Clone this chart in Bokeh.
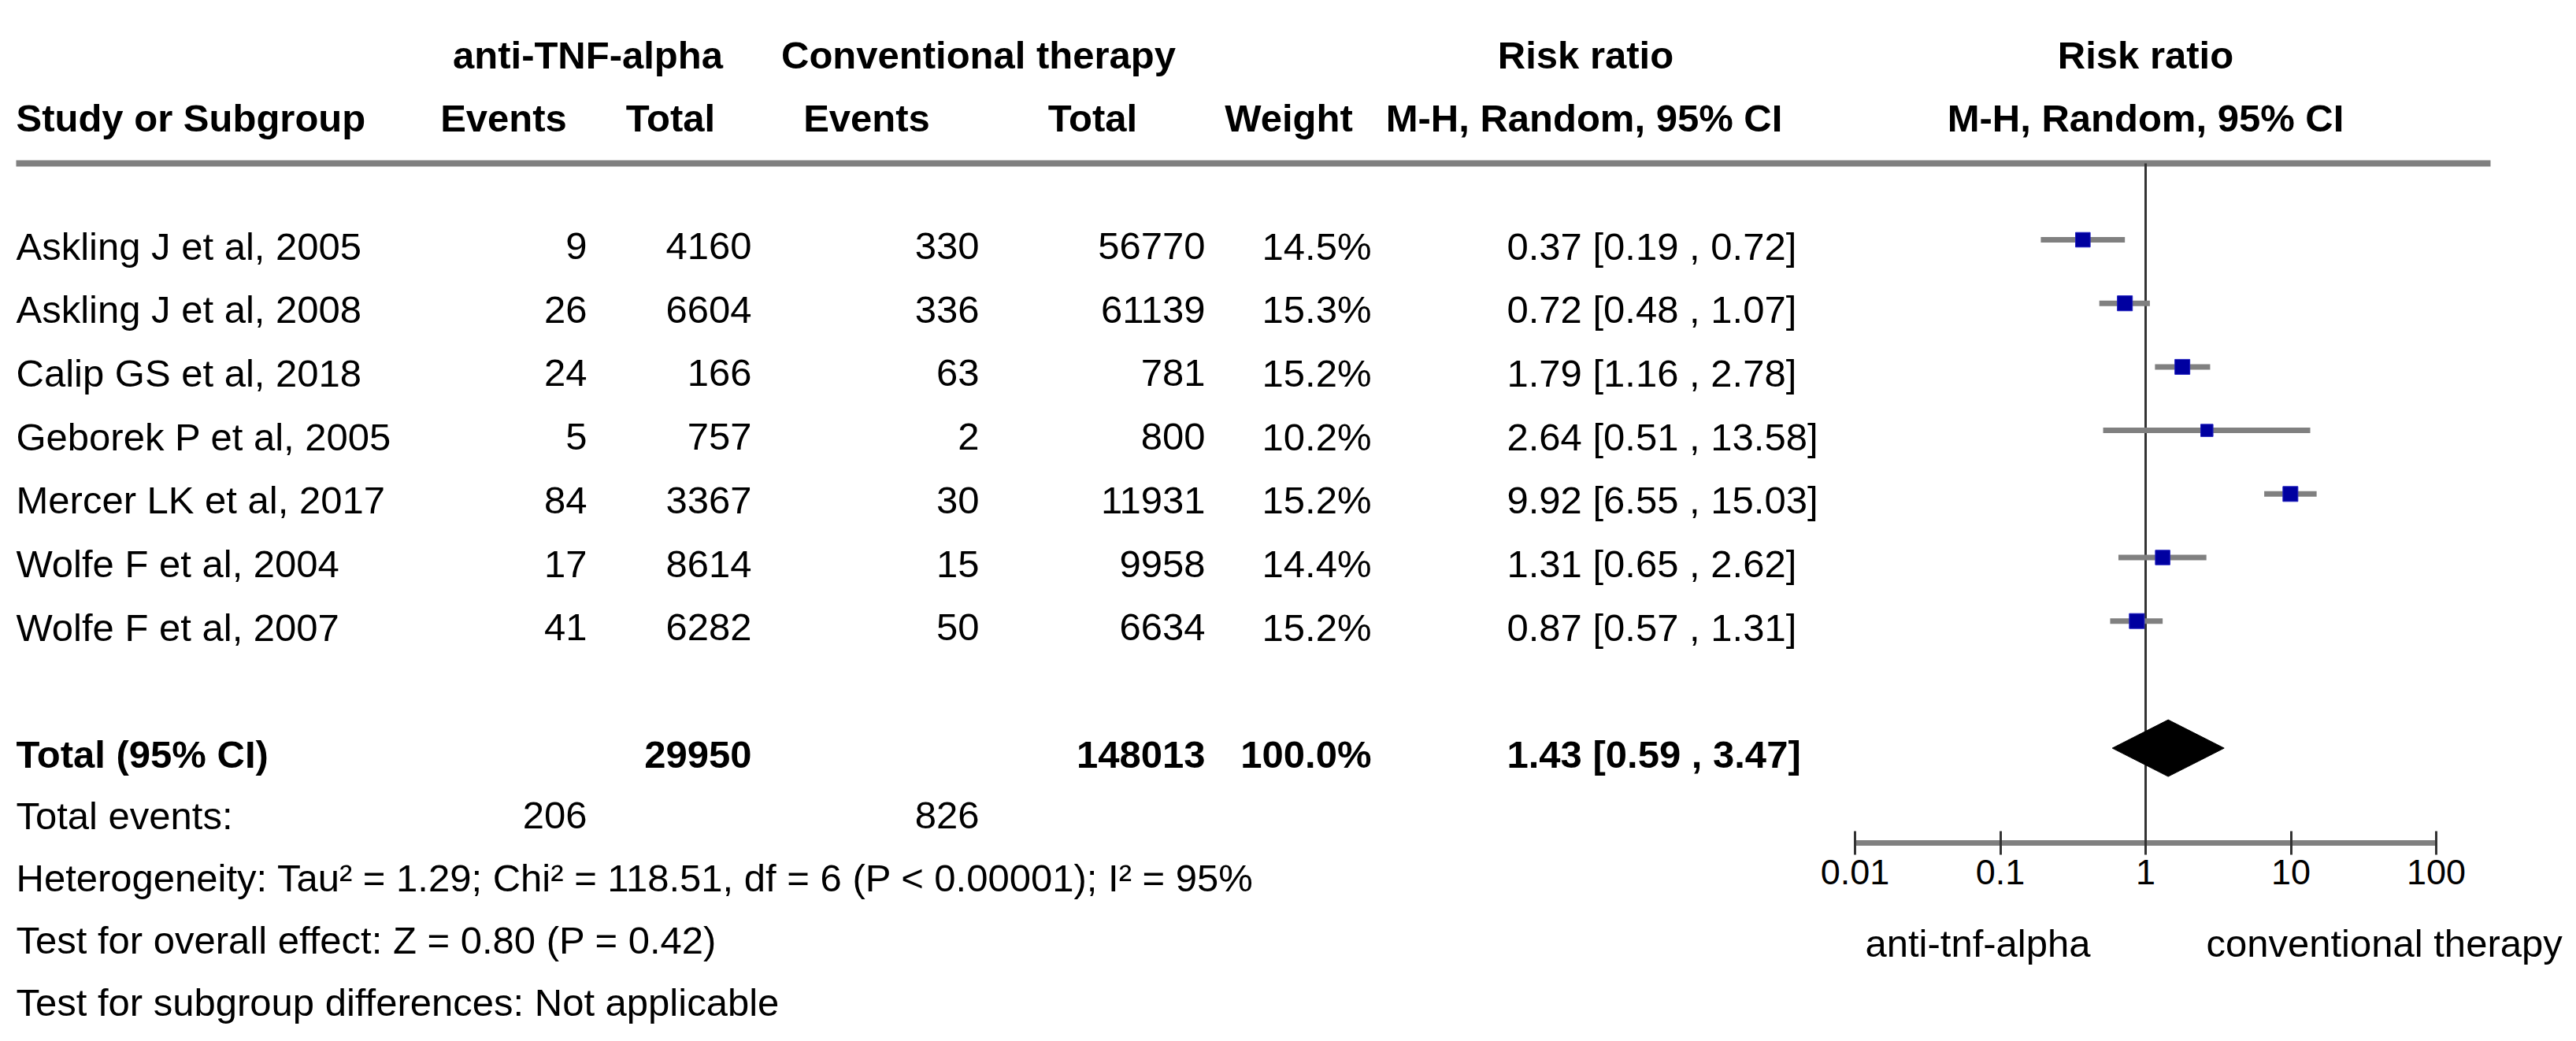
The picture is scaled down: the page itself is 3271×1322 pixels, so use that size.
from bokeh.plotting import figure
from bokeh.models import Range1d, LogScale, LogAxis, FixedTicker, CustomJSTickFormatter
from bokeh.core.properties import value
from bokeh.embed import file_html
from bokeh.resources import INLINE

# ---------------- data ----------------
studies = ["Askling J et al, 2005", "Askling J et al, 2008", "Calip GS et al, 2018",
           "Geborek P et al, 2005", "Mercer LK et al, 2017", "Wolfe F et al, 2004",
           "Wolfe F et al, 2007"]
anti_events = [9, 26, 24, 5, 84, 17, 41]
anti_total = [4160, 6604, 166, 757, 3367, 8614, 6282]
conv_events = [330, 336, 63, 2, 30, 15, 50]
conv_total = [56770, 61139, 781, 800, 11931, 9958, 6634]
weights = [14.5, 15.3, 15.2, 10.2, 15.2, 14.4, 15.2]
rr = [0.37, 0.72, 1.79, 2.64, 9.92, 1.31, 0.87]
rr_lo = [0.19, 0.48, 1.16, 0.51, 6.55, 0.65, 0.57]
rr_hi = [0.72, 1.07, 2.78, 13.58, 15.03, 2.62, 1.31]

total_anti_events = 206
total_conv_events = 826
total_anti_n = 29950
total_conv_n = 148013
total_weight = 100.0
total_rr, total_lo, total_hi = 1.43, 0.59, 3.47

axis_ticks = [0.01, 0.1, 1, 10, 100]
null_value = 1
favours_left = "anti-tnf-alpha"
favours_right = "conventional therapy"
footer = ["Heterogeneity: Tau\u00b2 = 1.29; Chi\u00b2 = 118.51, df = 6 (P < 0.00001); I\u00b2 = 95%",
          "Test for overall effect: Z = 0.80 (P = 0.42)",
          "Test for subgroup differences: Not applicable"]

# ---------------- layout ----------------
FONT = "Liberation Sans"
FS = "49px"
W, H = 3255, 1306
ROW_PX = 80.7
ROW0_PX = 312.0


def yi(px):
    return (px - ROW0_PX) / ROW_PX


DEC = 184.5
ONE_PX = 2732.0
rr_start = 10 ** (-(ONE_PX - 8) / DEC)
rr_end = 10 ** ((3263 - ONE_PX) / DEC)

p = figure(width=W, height=H,
           x_range=Range1d(8, 3263), y_range=Range1d(yi(1314), yi(8)),
           extra_x_ranges={"rr": Range1d(rr_start, rr_end)},
           extra_x_scales={"rr": LogScale()},
           output_backend="svg", toolbar_location=None,
           x_axis_location=None, y_axis_location=None,
           min_border=0, outline_line_color=None)
p.grid.visible = False
p.background_fill_color = "white"

BASE = 8 / ROW_PX
n = len(studies)
rows = list(range(n))
total_row = n + 1


def txt(x, y, t, align="left", bold=False, size=FS, **kw):
    p.text(x=x, y=y, text=t, text_align=align, text_baseline="alphabetic",
           text_font=value(FONT), text_font_size=size,
           text_font_style="bold" if bold else "normal", text_color="black", **kw)


# headers
h1 = yi(77)
h2 = yi(157)
txt([754, 1250, 2021], [h1] * 3, ["anti-TNF-alpha", "Conventional therapy", "Risk ratio"],
    align="center", bold=True)
txt([null_value], [h1], ["Risk ratio"], align="center", bold=True, x_range_name="rr")
txt([28], [h2], ["Study or Subgroup"], bold=True)
txt([647, 859, 1108, 1395, 1644, 2019], [h2] * 6,
    ["Events", "Total", "Events", "Total", "Weight", "M-H, Random, 95% CI"],
    align="center", bold=True)
txt([null_value], [h2], ["M-H, Random, 95% CI"], align="center", bold=True, x_range_name="rr")

# header rule
line_y = yi(215)
p.segment(x0=[28], x1=[3170], y0=[line_y], y1=[line_y], line_color="#808080", line_width=8)

# study rows
ty = [r + BASE for r in rows]
txt([28] * n, ty, studies)
txt([753] * n, ty, [str(v) for v in anti_events], align="right")
txt([962] * n, ty, [str(v) for v in anti_total], align="right")
txt([1251] * n, ty, [str(v) for v in conv_events], align="right")
txt([1538] * n, ty, [str(v) for v in conv_total], align="right")
txt([1749] * n, ty, [f"{w:.1f}%" for w in weights], align="right")
txt([1921] * n, ty, [f"{a:.2f} [{b:.2f} , {c:.2f}]" for a, b, c in zip(rr, rr_lo, rr_hi)])

# total row
tr = total_row + BASE
txt([28], [tr], ["Total (95% CI)"], bold=True)
txt([962, 1538, 1749], [tr] * 3, [str(total_anti_n), str(total_conv_n), f"{total_weight:.1f}%"],
    align="right", bold=True)
txt([1921], [tr], [f"{total_rr:.2f} [{total_lo:.2f} , {total_hi:.2f}]"], bold=True)

# total events and footer (slightly tighter line spacing, as in the reference)
FOOT_PX = 79.0
foot_base = [yi(1043 + i * FOOT_PX) for i in range(len(footer) + 1)]
txt([28], [foot_base[0]], ["Total events:"])
txt([753, 1251], [foot_base[0]] * 2, [str(total_anti_events), str(total_conv_events)],
    align="right")
txt([28] * len(footer), foot_base[1:], footer)

# ---------------- forest ----------------
axis_y = yi(1078)
p.segment(x0=[null_value], x1=[null_value], y0=[line_y], y1=[axis_y],
          line_color="#333333", line_width=3, x_range_name="rr")
p.segment(x0=rr_lo, x1=rr_hi, y0=rows, y1=rows, line_color="#808080", line_width=7,
          x_range_name="rr")
sizes = [19 * (w / 15.2) ** 0.5 for w in weights]
p.scatter(x=rr, y=rows, size=sizes, marker="square", fill_color="#0000a0",
          line_color="#2020c0", line_width=1, x_range_name="rr")

dh = 36 / ROW_PX
p.patch(x=[total_lo, total_rr, total_hi, total_rr],
        y=[total_row, total_row - dh, total_row, total_row + dh],
        fill_color="black", line_color="black", x_range_name="rr")

ax = LogAxis(x_range_name="rr", fixed_location=axis_y, bounds=(axis_ticks[0], axis_ticks[-1]),
             ticker=FixedTicker(ticks=axis_ticks),
             formatter=CustomJSTickFormatter(code="return tick.toString()"))
ax.axis_line_color = "#808080"
ax.axis_line_width = 7
ax.major_tick_line_color = "#333333"
ax.major_tick_line_width = 3
ax.major_tick_in = 15
ax.major_tick_out = 15
ax.minor_tick_line_color = None
ax.major_label_text_font = FONT
ax.major_label_text_font_size = "45px"
ax.major_label_text_color = "black"
ax.major_label_standoff = 6
p.add_layout(ax, "below")

fy = yi(1205)
txt([2662], [fy], [favours_left], align="right")
txt([2809], [fy], [favours_right], align="left")

open("out.html", "w").write(file_html(p, INLINE))
